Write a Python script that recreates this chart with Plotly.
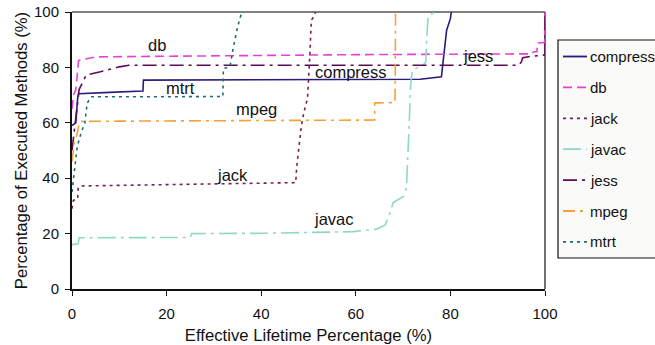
import plotly.graph_objects as go

# ---- data ----
names = ["compress", "db", "jack", "javac", "jess", "mpeg", "mtrt"]

compress_x = [0, 0.8, 1.2, 1.4, 8, 15.0, 15.1, 40, 73.6, 78.1, 78.5, 79.2, 80.0, 80.2]
compress_y = [59, 60, 69, 70.5, 71, 71.5, 75.4, 75.5, 75.7, 76.6, 82.6, 93.4, 97.6, 100]

db_x = [0, 0.3, 0.8, 1.4, 5, 30, 60, 97.3, 97.5, 98.3, 98.4, 99.9, 100]
db_y = [65, 70, 72, 82.5, 83.8, 84.2, 84.6, 84.9, 85.6, 85.7, 88.8, 89, 100]

jack_x = [0, 0.3, 1.2, 1.3, 2, 10, 30, 45, 47.3, 47.5, 48.0, 48.5, 49, 49.8, 50.3, 50.6, 51.0, 51.5]
jack_y = [29, 32, 32.5, 36.5, 37.2, 37.4, 37.8, 38.2, 38.4, 44, 52, 59, 63.5, 69, 85, 97, 98, 100]

javac_x = [0, 1.3, 1.5, 25.0, 25.3, 40, 59.4, 64.4, 66.2, 67.2, 67.9, 70.0, 70.7, 71.0, 71.3,
           71.6, 72.0, 74.2, 74.8, 75.0, 75.3, 76.7]
javac_y = [16, 16.3, 18.5, 18.6, 20.0, 20.1, 20.7, 21.6, 23.1, 27.3, 31.2, 33.3, 36.4, 46.6, 60,
           74.2, 79, 80.8, 82, 91, 98.5, 100]

jess_x = [0, 0.3, 0.6, 1.0, 1.5, 3.0, 6, 10, 12, 94.5, 95, 95.3, 97, 99.5, 100, 100]
jess_y = [50, 55, 60, 64.6, 72, 77.2, 78.4, 80.2, 80.8, 80.8, 82, 83.5, 84, 84.5, 84.5, 100]

mpeg_x = [0, 0.5, 0.8, 1.6, 2, 10, 64.0, 64.0, 68.3, 68.4]
mpeg_y = [46, 53, 54, 60.3, 60.5, 60.6, 61, 67.2, 67.3, 100]

mtrt_x = [0, 0.4, 1.1, 2.0, 2.7, 3.2, 4, 20, 31.9, 32.0, 33.4, 34.0, 35.0, 35.9]
mtrt_y = [35, 41.8, 51.4, 56.8, 59.8, 67, 69.4, 69.4, 69.5, 79.6, 80.2, 86.2, 94.6, 100]

x_ticks = [0, 20, 40, 60, 80, 100]
y_ticks = [0, 20, 40, 60, 80, 100]

labels = ["db", "compress", "jess", "mtrt", "mpeg", "jack", "javac"]
label_x = [18.0, 59.0, 85.8, 23.0, 38.9, 34.0, 55.4]
label_y = [88.0, 78.3, 84.2, 72.6, 65.1, 41.2, 25.3]

# ---- styles ----
colors = {"compress": "#2B1B7B", "db": "#E83FD6", "jack": "#7B1F4F", "javac": "#8FD9C4",
          "jess": "#5E0A55", "mpeg": "#F7A035", "mtrt": "#1F6E6E"}
dashes = {"compress": "solid", "db": "9px,5px", "jack": "3px,4px", "javac": "18px,5px,3px,5px",
          "jess": "14px,5px,3px,5px", "mpeg": "12px,5px,3px,5px", "mtrt": "3px,4px"}
series = {"compress": (compress_x, compress_y), "db": (db_x, db_y), "jack": (jack_x, jack_y),
          "javac": (javac_x, javac_y), "jess": (jess_x, jess_y), "mpeg": (mpeg_x, mpeg_y),
          "mtrt": (mtrt_x, mtrt_y)}

FONT = "Liberation Sans, Arial, sans-serif"
W, H = 655, 345
ML, MR, MT, MB = 72, 110, 12, 56
PW, PH = W - ML - MR, H - MT - MB

def px2paper_x(px):
    return (px - ML) / PW

def px2paper_y(py):
    return (H - MB - py) / PH

fig = go.Figure()
for n in names:
    xs, ys = series[n]
    fig.add_trace(go.Scatter(x=xs, y=ys, mode="lines", name=n, showlegend=False,
                             line=dict(color=colors[n], width=1.6, dash=dashes[n])))

for t, lx, ly in zip(labels, label_x, label_y):
    fig.add_annotation(x=lx, y=ly, text=t, showarrow=False, xref="x", yref="y",
                       font=dict(family=FONT, size=16.5, color="#111"))

shapes = []
# top gray border and right black border
shapes.append(dict(type="line", xref="paper", yref="paper", x0=0, x1=1, y0=1, y1=1,
                   line=dict(color="#808080", width=2), layer="below"))
shapes.append(dict(type="line", xref="paper", yref="paper", x0=1, x1=1, y0=0, y1=1,
                   line=dict(color="#111", width=1.2), layer="below"))

# manual legend
box_l, box_t, box_b = 558, 40, 258
shapes.append(dict(type="rect", xref="paper", yref="paper",
                   x0=px2paper_x(box_l), x1=px2paper_x(W + 5),
                   y0=px2paper_y(box_b), y1=px2paper_y(box_t),
                   line=dict(color="#111", width=1.2), fillcolor="#FAFAF8"))
row0, step = 56.5, 30.9
for i, n in enumerate(names):
    py = row0 + i * step
    shapes.append(dict(type="line", xref="paper", yref="paper",
                       x0=px2paper_x(563), x1=px2paper_x(587),
                       y0=px2paper_y(py), y1=px2paper_y(py),
                       line=dict(color=colors[n], width=1.8, dash=dashes[n])))
    fig.add_annotation(x=px2paper_x(588), y=px2paper_y(py), xref="paper", yref="paper",
                       text=n, showarrow=False, xanchor="left", yanchor="middle",
                       font=dict(family=FONT, size=15, color="#111"))

fig.update_layout(
    width=W, height=H,
    margin=dict(l=ML, r=MR, t=MT, b=MB, autoexpand=False),
    paper_bgcolor="white", plot_bgcolor="white",
    font=dict(family=FONT, size=15, color="#111"),
    shapes=shapes,
    showlegend=False,
)
fig.update_xaxes(range=[0, 100], tickvals=x_ticks, ticks="outside", ticklen=5, tickwidth=1,
                 tickcolor="#111", showline=True, linecolor="#111", linewidth=1.5,
                 showgrid=False, zeroline=False, ticklabelstandoff=5,
                 tickfont=dict(family=FONT, size=15),
                 title=dict(text="Effective Lifetime Percentage (%)", standoff=10,
                            font=dict(family=FONT, size=16.7)))
fig.update_yaxes(range=[0, 100], tickvals=y_ticks, ticks="outside", ticklen=5, tickwidth=1,
                 tickcolor="#111", showline=True, linecolor="#111", linewidth=2,
                 showgrid=False, zeroline=False, ticklabelstandoff=3,
                 tickfont=dict(family=FONT, size=15),
                 title=dict(text="Percentage of Executed Methods (%)", standoff=2,
                            font=dict(family=FONT, size=16.7)))

fig.write_html("out.html")
